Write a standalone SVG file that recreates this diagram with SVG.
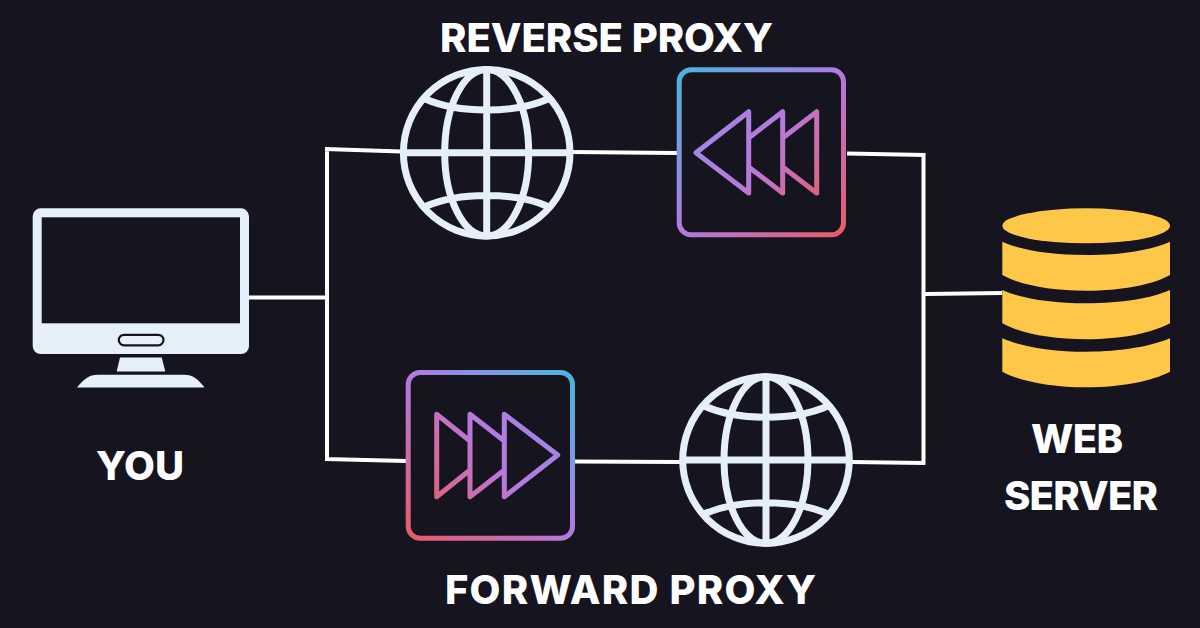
<svg xmlns="http://www.w3.org/2000/svg" width="1200" height="628" viewBox="0 0 1200 628">
<style>
.label{font-family:"Inter","Liberation Sans",sans-serif;font-weight:800;font-size:40px;fill:#fff;text-anchor:middle}
.wire{fill:none;stroke:#fff;stroke-width:4}
.globe{fill:none;stroke:#e6eff9;stroke-width:7}
.light{fill:#e6f0fb}
.db{fill:#fec748}
.box{fill:none;stroke-width:5}
.tri{fill:none;stroke-width:5;stroke-linejoin:round}
</style>
<defs>
<linearGradient id="gr" gradientUnits="userSpaceOnUse" x1="677" y1="67" x2="846" y2="237"><stop offset="0" stop-color="#45b8de"/><stop offset=".5" stop-color="#b27ae0"/><stop offset="1" stop-color="#ea5a64"/></linearGradient>
<linearGradient id="gf" gradientUnits="userSpaceOnUse" x1="575" y1="370" x2="406" y2="541"><stop offset="0" stop-color="#45b8de"/><stop offset=".5" stop-color="#b27ae0"/><stop offset="1" stop-color="#ea5a64"/></linearGradient>
<linearGradient id="tr" gradientUnits="userSpaceOnUse" x1="696" y1="112" x2="817" y2="193"><stop offset="0" stop-color="#9a8ae8"/><stop offset=".55" stop-color="#b878dc"/><stop offset="1" stop-color="#dc6480"/></linearGradient>
<linearGradient id="tf" gradientUnits="userSpaceOnUse" x1="558" y1="414" x2="437" y2="497"><stop offset="0" stop-color="#9a8ae8"/><stop offset=".55" stop-color="#b878dc"/><stop offset="1" stop-color="#dc6480"/></linearGradient>
<g id="globe" class="globe"><circle r="83.300"/><ellipse rx="42" ry="83.300"/><path d="M0-83V83M-83 0H83M-62-54C-28-39 28-39 62-54M-62 54C-28 39 28 39 62 54"/></g>
</defs>
<rect width="1200" height="628" fill="#16141f"/>
<g id="connectors" class="wire">
<path d="M249 297.500H327M327 147.500V460.500M325 149L401 151.500M572 152L677 153M847 153.500L925.500 155M923.500 153.500V464.500M325 459L406 461M575 461.500L680 462M851 462L925.500 463M925 294L1002 293"/>
</g>
<g id="you">
<rect class="light" x="32.700" y="208.300" width="216.300" height="145.700" rx="8"/>
<rect x="41.700" y="217.300" width="198.300" height="106" fill="#16141f"/>
<rect x="118.800" y="334.800" width="44.700" height="10.500" rx="5.250" fill="#e6f0fb" stroke="#16141f" stroke-width="2.200"/>
<path class="light" d="M120 357.500H161.700L165.300 371.500H116.700ZM77 387.500C84 379 89 374.700 98 374.700H184C193 374.700 198 379 204.500 387.500Z"/>
<text class="label" x="140" y="480" textLength="88">YOU</text>
</g>
<g id="reverse-globe"><use href="#globe" x="486.700" y="152.700"/></g>
<g id="reverse-proxy">
<rect class="box" stroke="url(#gr)" x="679.200" y="69.800" width="164.300" height="165" rx="12"/>
<path class="tri" stroke="url(#tr)" d="M696 152.700L748.700 111.700V193ZM748.700 138L782.700 111.700V193L748.700 167M782.700 138L816.700 111.700V193L782.700 167"/>
<text class="label" x="606.500" y="51.500" textLength="333">REVERSE PROXY</text>
</g>
<g id="forward-proxy">
<rect class="box" stroke="url(#gf)" x="408.200" y="372.500" width="164.300" height="165.700" rx="12"/>
<path class="tri" stroke="url(#tf)" d="M557.700 455L504.300 414.300V496.700ZM504.300 441L470 414.300V496.700L504.300 470M470 441L436.700 414.300V496.700L470 470"/>
<text class="label" x="630.500" y="603.500" textLength="371">FORWARD PROXY</text>
</g>
<g id="forward-globe"><use href="#globe" x="766" y="460"/></g>
<g id="web-server">
<ellipse class="db" cx="1086.200" cy="225.800" rx="83.800" ry="17.500"/>
<path class="db" d="M1002.300 241.700C1020 250 1050 255 1086.200 255C1122 255 1152 250 1170 241.700V275C1152 285 1122 290.700 1086.200 290.700C1050 290.700 1020 285 1002.300 275Z"/>
<path class="db" d="M1002.300 290C1020 298 1050 303.300 1086.200 303.300C1122 303.300 1152 298 1170 290V323.300C1152 333 1122 339.300 1086.200 339.300C1050 339.300 1020 333 1002.300 323.300Z"/>
<path class="db" d="M1002.300 338.300C1020 346 1050 351.700 1086.200 351.700C1122 351.700 1152 346 1170 338.300V371.700C1152 381 1122 387.300 1086.200 387.300C1050 387.300 1020 381 1002.300 371.700Z"/>
<text class="label" x="1077" y="452.700" textLength="92">WEB</text>
<text class="label" x="1081" y="510" textLength="154">SERVER</text>
</g>
</svg>
